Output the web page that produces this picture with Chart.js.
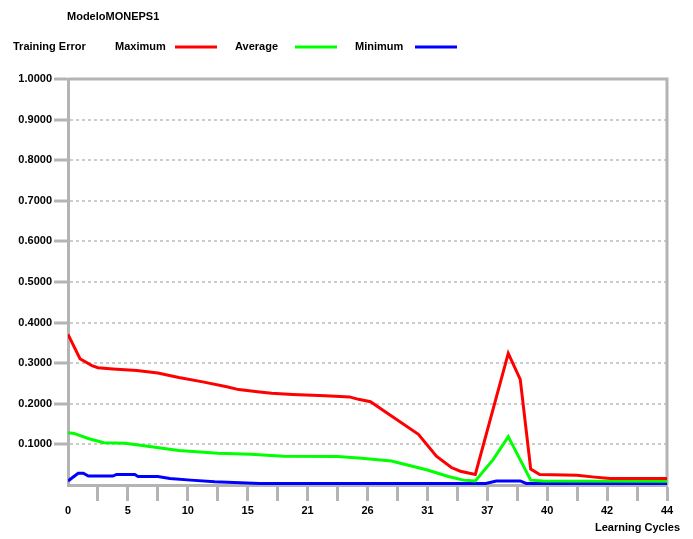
<!DOCTYPE html>
<html>
<head>
<meta charset="utf-8">
<script src="https://cdn.jsdelivr.net/npm/chart.js@4.4.1/dist/chart.umd.min.js"></script>
<style>
  html, body { margin: 0; padding: 0; background: #fff; }
  #wrap { width: 693px; height: 539px; }
</style>
</head>
<body>
<div id="wrap"><canvas id="errorChart"></canvas></div>
<script>
// Chart texts
const chartTitle = "ModeloMONEPS1";
const legendTitle = "Training Error";
const axisTitle = "Learning Cycles";

// Tick labels of the cycle axis (one per tick, every other one blank)
const cycleLabels = ["0", "", "5", "", "10", "", "15", "", "21", "", "26", "", "31", "", "37", "", "40", "", "42", "", "44"];

// Maximum error (positions in tick steps along the cycle axis)
const maxPos = [0, 0.4, 0.8, 1.0, 1.5, 2.3, 3.0, 3.7, 4.5, 5.3, 5.7, 6.4, 6.8, 7.5, 8.6, 9.4, 9.7, 10.1, 10.8, 11.7, 12.3, 12.8, 13.1, 13.6, 14.7, 15.1, 15.45, 15.75, 17.0, 17.5, 18.1, 20];
const maxErr = [0.371, 0.311, 0.294, 0.289, 0.286, 0.282, 0.276, 0.265, 0.254, 0.242, 0.235, 0.229, 0.226, 0.223, 0.220, 0.217, 0.211, 0.205, 0.170, 0.125, 0.071, 0.043, 0.034, 0.026, 0.324, 0.260, 0.039, 0.026, 0.024, 0.020, 0.016, 0.016];

// Average error
const avgPos = [0, 0.2, 0.7, 1.2, 1.9, 2.6, 3.7, 5.0, 6.1, 7.2, 9.0, 9.8, 10.8, 12.0, 12.7, 13.2, 13.6, 14.2, 14.7, 15.45, 15.85, 20];
const avgErr = [0.129, 0.127, 0.114, 0.104, 0.103, 0.096, 0.085, 0.078, 0.076, 0.071, 0.070, 0.066, 0.059, 0.037, 0.021, 0.012, 0.010, 0.063, 0.119, 0.012, 0.010, 0.009];

// Minimum error
const minPos = [0, 0.34, 0.51, 0.68, 1.5, 1.62, 2.23, 2.34, 3.0, 3.4, 4.1, 4.9, 6.4, 13.95, 14.3, 15.1, 15.3, 20];
const minErr = [0.010, 0.029, 0.029, 0.022, 0.022, 0.026, 0.026, 0.021, 0.021, 0.016, 0.012, 0.008, 0.004, 0.004, 0.010, 0.010, 0.004, 0.004];

const FONT = "'Liberation Sans', Arial, sans-serif";
const FRAME = "#b4b4b4";

function toPoints(pos, vals) {
  return pos.map((p, i) => ({ x: p, y: vals[i] }));
}

/** Top and right frame lines */
const framePlugin = {
  id: "frame",
  beforeDatasetsDraw(chart) {
    const { ctx, chartArea: a } = chart;
    ctx.save();
    ctx.strokeStyle = FRAME;
    ctx.lineWidth = 3;
    ctx.beginPath();
    ctx.moveTo(a.left, a.top);
    ctx.lineTo(a.right, a.top);
    ctx.lineTo(a.right, a.bottom);
    ctx.stroke();
    ctx.restore();
  },
};

/** Title, legend row and axis caption */
const headerPlugin = {
  id: "header",
  afterDraw(chart) {
    const ctx = chart.ctx;
    ctx.save();
    ctx.font = `bold 11px ${FONT}`;
    ctx.fillStyle = "#000";
    ctx.textBaseline = "middle";
    ctx.textAlign = "left";
    ctx.fillText(chartTitle, 67, 17);
    ctx.fillText(legendTitle, 13, 47);
    chart.data.datasets.forEach((ds, i) => {
      const x = 115 + i * 120;
      ctx.fillText(ds.label, x, 47);
      ctx.strokeStyle = ds.borderColor;
      ctx.lineWidth = 3;
      ctx.beginPath();
      ctx.moveTo(x + 60, 47);
      ctx.lineTo(x + 102, 47);
      ctx.stroke();
    });
    ctx.textAlign = "right";
    ctx.fillText(axisTitle, 680, 528);
    ctx.restore();
  },
};

const ctx = document.getElementById("errorChart").getContext("2d");
new Chart(ctx, {
  type: "line",
  data: {
    datasets: [
      { label: "Maximum", data: toPoints(maxPos, maxErr), borderColor: "#ff0000" },
      { label: "Average", data: toPoints(avgPos, avgErr), borderColor: "#00ff00" },
      { label: "Minimum", data: toPoints(minPos, minErr), borderColor: "#0000ff" },
    ],
  },
  options: {
    responsive: true,
    maintainAspectRatio: false,
    animation: false,
    layout: { padding: { top: 79, right: 26, bottom: 0, left: 0 } },
    elements: {
      line: { borderWidth: 3, tension: 0, fill: false },
      point: { radius: 0 },
    },
    plugins: {
      legend: { display: false },
      title: { display: false },
      tooltip: { enabled: false },
    },
    scales: {
      x: {
        type: "linear",
        min: 0,
        max: 20,
        afterFit: (scale) => { scale.height = 54; },
        ticks: {
          stepSize: 1,
          autoSkip: false,
          maxRotation: 0,
          padding: 3,
          color: "#000",
          font: { family: FONT, size: 11, weight: "bold" },
          callback: (v) => cycleLabels[Math.round(v)],
        },
        grid: {
          drawOnChartArea: false,
          tickLength: 16,
          tickWidth: 3,
          tickColor: (c) => (c.index === 0 ? "rgba(0,0,0,0)" : FRAME),
        },
        border: { display: true, color: FRAME, width: 3 },
      },
      y: {
        min: 0,
        max: 1,
        afterFit: (scale) => { scale.width = 68; },
        ticks: {
          stepSize: 0.1,
          padding: 2,
          color: "#000",
          font: { family: FONT, size: 11, weight: "bold" },
          callback: (v) => (v < 0.001 ? "" : v.toFixed(4)),
        },
        grid: {
          lineWidth: 2,
          color: (c) => {
            const v = c.tick ? c.tick.value : 0;
            return v < 0.001 || v > 0.999 ? "rgba(0,0,0,0)" : "#cccccc";
          },
          tickLength: 14,
          tickWidth: 3,
          tickBorderDash: [],
          tickColor: (c) => (c.tick && c.tick.value < 0.001 ? "rgba(0,0,0,0)" : FRAME),
        },
        border: { display: true, color: FRAME, width: 3, dash: [3, 3] },
      },
    },
  },
  plugins: [framePlugin, headerPlugin],
});
</script>
</body>
</html>
